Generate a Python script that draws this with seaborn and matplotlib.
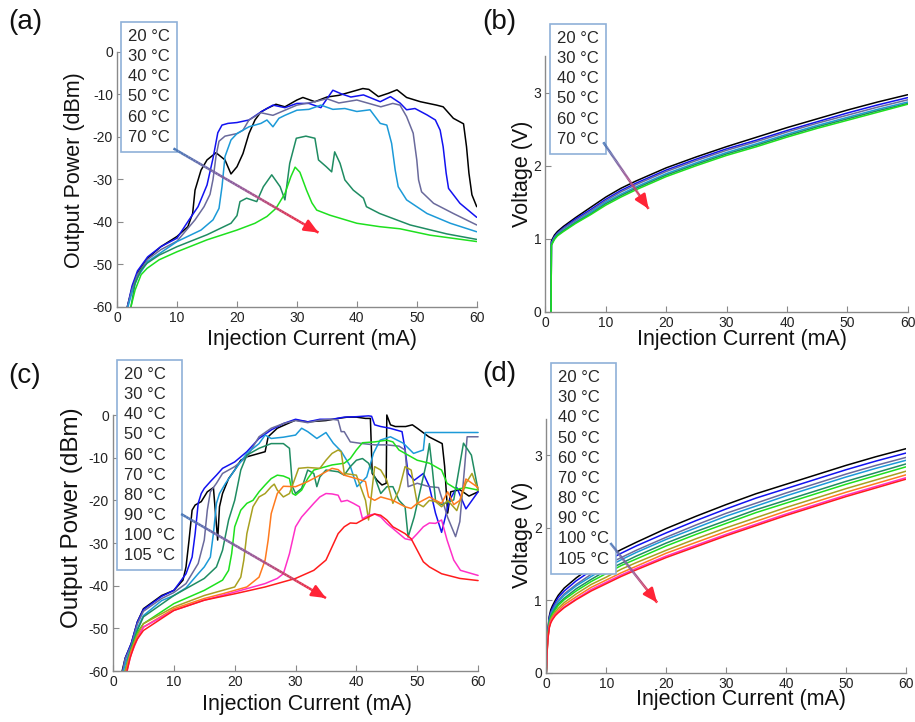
import numpy as np
import pandas as pd
import matplotlib
matplotlib.use("Agg")
import matplotlib.pyplot as plt
import seaborn as sns
from matplotlib.collections import LineCollection
from matplotlib.colors import LinearSegmentedColormap
from matplotlib.lines import Line2D

# ---------------- labels / colours ----------------
temps_ab = ["20 °C", "30 °C", "40 °C", "50 °C", "60 °C", "70 °C"]
temps_cd = temps_ab + ["80 °C", "90 °C", "100 °C", "105 °C"]
temp_colors = ["#000000", "#1212f0", "#6a6a9c", "#1c9ad8", "#1f8c62", "#1ee01e",
               "#a8a020", "#ff7a1e", "#ff30c8", "#ff1c1c"]

# ---------------- panel (a): output power, 20-70 °C ----------------
a20_x = [1.7, 2.5, 3.4, 5.1, 7.3, 10, 11.8, 12.6, 13, 14, 15, 16.5, 18, 19, 20, 21, 22, 23, 24, 25,
         26.5, 28, 30, 31, 33, 35, 37, 39, 41, 42, 43.6, 45.3, 46.7, 48.3, 50.6, 53.3, 54.4, 56.1,
         57.8, 58.3, 58.7, 59.2, 60]
a20_y = [-60, -55.5, -52, -48.5, -45.8, -43.4, -41.1, -38, -32.5, -27.8, -25.4, -23.7, -25.4, -28.7,
         -27, -23.9, -19.2, -16, -14.1, -13.3, -12.3, -12.9, -11.3, -10.7, -11.7, -10.6, -10.2, -9.4,
         -8.6, -8.8, -10.5, -9.7, -8.9, -10.7, -11.7, -12.5, -12.9, -15.6, -16.9, -22.3, -28.5, -33.6,
         -36.4]
a30_x = [1.7, 2.5, 3.4, 5.1, 7.3, 10, 12, 13.5, 15, 16, 16.8, 17.5, 18.5, 20, 22, 24, 26, 28, 30, 32,
         34, 36, 37.5, 39, 41.1, 43.9, 45.6, 47.2, 48.3, 49.7, 51.7, 53.1, 53.9, 54.4, 54.9, 55.3,
         57.2, 60]
a30_y = [-60, -55, -51.5, -48.2, -45.8, -43.8, -39.5, -36.4, -31.3, -25, -19, -17.2, -16.8, -16.6,
         -16, -14.1, -12.5, -13.1, -12.1, -12.1, -13.1, -9.0, -9.9, -10.6, -10.1, -11.7, -10.5, -12,
         -13.6, -13.3, -14.8, -16, -18.4, -22.3, -28.5, -32.1, -35.6, -38.9]
a40_x = [1.7, 2.5, 3.4, 5.1, 7.3, 10, 13, 14.5, 15.5, 16, 16.5, 17, 18, 20, 21, 22, 24, 26, 28, 30,
         33, 35, 37, 40, 42, 44, 46, 47.2, 48.3, 49.4, 50, 50.3, 50.8, 52.8, 56.1, 60]
a40_y = [-60, -55.8, -52.3, -48.8, -46.5, -44.5, -39.5, -36.4, -33.5, -30, -24.5, -21, -19.8, -19.2,
         -18.4, -16, -14.3, -14.9, -13.7, -12.5, -11.7, -11, -12, -11.3, -12.1, -12.9, -12.1, -12.5,
         -15.2, -19.1, -25.4, -30.1, -32.9, -35.6, -38, -40.7]
a50_x = [1.8, 2.6, 3.5, 5.1, 7.3, 10, 14, 16, 17, 17.5, 18, 19, 20, 22, 24, 25, 26, 27, 28, 30, 32,
         34, 36, 38, 40, 42.2, 43.9, 45, 45.8, 46.4, 46.9, 48.3, 51.7, 55.6, 60]
a50_y = [-60, -56, -52.8, -49.3, -47.2, -44.6, -41.9, -39.5, -36.8, -31.7, -24.6, -20.7, -19.2, -17.6,
         -16.8, -16, -17.6, -15.6, -14.9, -13.7, -13.5, -12.5, -13.5, -13.3, -14, -13.6, -16.8, -17.2,
         -21.5, -27.8, -31.7, -34.8, -38, -40.3, -42.3]
a60_x = [2.3, 3, 4, 5, 7, 10, 15, 19, 20, 20.5, 21.6, 23.3, 24.4, 25.8, 27.2, 28, 28.8, 29.9, 31.5,
         33, 33.6, 34.9, 35.8, 36.3, 37.2, 38, 39.4, 41.1, 41.6, 43.8, 48.9, 55, 60]
a60_y = [-60, -54.4, -51.3, -49.7, -47.8, -45.8, -43, -40.3, -38.5, -35.2, -34.4, -35.2, -31.7, -28.9,
         -31.7, -34.8, -26.2, -20.3, -19.8, -20.3, -25.4, -27, -28.2, -23.5, -26.2, -30.1, -32.5,
         -34.4, -36.4, -38, -40.7, -42.8, -44.1]
a70_x = [2.3, 3, 4, 5, 7, 10, 15, 20, 23, 25, 26.5, 28, 29, 29.7, 30.5, 31.6, 32.5, 33.3, 35.5, 40,
         43.8, 47.2, 52.2, 60]
a70_y = [-60, -56, -52.4, -50.9, -48.9, -47, -44.2, -41.9, -40.3, -38.7, -36.8, -33.3, -29.3, -27.1,
         -28.3, -32.5, -35.5, -37.2, -38.4, -40.3, -41.1, -41.6, -43.1, -44.6]

# ---------------- panel (b): voltage, 20-70 °C ----------------
b_current = [0.95, 1, 1.5, 2, 3, 5, 7.5, 10, 12.5, 15, 20, 25, 30, 35, 40, 45, 50, 55, 60]
b20 = [0, 0.97, 1.05, 1.10, 1.17, 1.29, 1.43, 1.57, 1.69, 1.79, 1.97, 2.12, 2.26, 2.39, 2.52, 2.64, 2.76, 2.87, 2.97]
b30 = [0, 0.95, 1.03, 1.08, 1.15, 1.27, 1.40, 1.54, 1.66, 1.76, 1.94, 2.09, 2.23, 2.35, 2.48, 2.60, 2.72, 2.83, 2.93]
b40 = [0, 0.94, 1.02, 1.07, 1.14, 1.25, 1.38, 1.52, 1.64, 1.74, 1.92, 2.07, 2.21, 2.33, 2.46, 2.58, 2.69, 2.80, 2.90]
b50 = [0, 0.93, 1.01, 1.06, 1.12, 1.23, 1.36, 1.50, 1.61, 1.71, 1.89, 2.04, 2.18, 2.30, 2.43, 2.55, 2.66, 2.77, 2.87]
b60 = [0, 0.92, 1.00, 1.05, 1.11, 1.22, 1.34, 1.48, 1.59, 1.69, 1.87, 2.02, 2.16, 2.28, 2.41, 2.53, 2.64, 2.75, 2.85]
b70 = [0, 0.91, 0.99, 1.04, 1.10, 1.21, 1.33, 1.46, 1.57, 1.67, 1.85, 2.00, 2.14, 2.26, 2.39, 2.51, 2.62, 2.73, 2.84]

# ---------------- panel (c): output power, 20-105 °C ----------------
c20_x = [1.5, 2, 3, 4, 5, 8, 10, 11.5, 12, 12.5, 13, 13.5, 14.5, 15.5, 16.5, 17.2, 17.5, 18, 19, 20,
         21, 22, 25, 25.5, 27, 30, 32, 35, 37, 38.5, 40, 41.5, 42.3, 42.6, 43.4, 44.2, 44.9, 45, 45.6,
         46.4, 48.1, 49.2, 50, 51.9, 54.1, 54.5, 55, 55.5, 57, 58.5, 60]
c20_y = [-60, -57, -53.6, -48.5, -45.4, -42.3, -41.1, -38.7, -35.6, -29.3, -22.3, -21.1, -20.3, -18,
         -17, -29.3, -21.5, -18.4, -14.9, -12.9, -10.6, -9.8, -8.6, -5.1, -3.1, -1.2, -1.6, -1.3,
         -0.8, -0.5, -0.5, -0.8, -0.8, -13.7, -15.3, -16.4, -16, 0, -2.3, -2.7, -2.7, -2.3, -3.1,
         -5.1, -6.7, -12, -23, -18, -17.5, -19, -18]
c30_x = [1.6, 2, 3, 4, 5, 8, 10, 12, 13, 13.5, 14, 14.5, 15, 16, 17, 18, 20, 22, 24, 26, 28, 30, 32,
         34, 36, 38, 40, 42, 42.5, 43, 44, 45.5, 47.5, 48, 48.5, 49.5, 51, 52, 53, 54, 54.6, 55.3,
         56.5, 58, 60]
c30_y = [-60, -57, -53.5, -48.5, -45.6, -42.5, -41.1, -37.2, -33.3, -27.8, -20.7, -18.4, -17.2, -15.6,
         -14.1, -12.5, -11, -8.6, -5.5, -3.5, -2, -1, -1.6, -1, -1, -0.5, -0.4, -0.2, -0.3, -2.3,
         -2.7, -3.1, -3.9, -8, -13.7, -15.3, -13.7, -16.8, -23, -27.5, -24, -20, -17, -22, -18]
c40_x = [1.6, 2, 3, 4, 5, 8, 10, 12, 14, 15, 15.5, 16, 17, 18, 20, 22, 24, 26, 28, 30, 32, 34, 36,
         37, 37.5, 38, 39, 41, 43, 45, 47, 48, 48.5, 50, 52, 53.5, 55, 56.3, 57, 57.8, 58.2, 60]
c40_y = [-60, -57.3, -54, -49, -46, -43, -41.6, -39.5, -34.8, -29.3, -22.3, -18, -16, -13.7, -12.1,
         -9.8, -5.1, -3.1, -2, -1.3, -1.8, -1.2, -1, -1.2, -3.9, -3.9, -6.3, -6.7, -7, -7, -7.3,
         -8.2, -16.8, -16, -16.8, -17, -24, -28.5, -25, -12, -5.1, -5.1]
c50_x = [1.7, 2.2, 3, 4, 5, 8, 10, 12, 14, 15, 16, 16.5, 17, 17.5, 18.5, 20, 22, 24, 25, 26, 28, 30,
         31, 32, 33.5, 35, 36.2, 37.5, 39, 40.1, 41.7, 42.8, 43.9, 45.6, 47.7, 49.4, 51, 51.3, 53, 60]
c50_y = [-60, -57.5, -54.5, -50, -47, -43.5, -42.3, -40.5, -37.2, -35.6, -33.3, -27.8, -20.7, -18.4,
         -16, -12.9, -9, -6.7, -4.7, -5.5, -5.2, -4.7, -3.1, -3.9, -5.5, -4.1, -6.6, -8.5, -12,
         -16.8, -14.5, -9, -5.9, -5.1, -6.6, -9, -8.2, -4.1, -4.1, -4.1]
c60_x = [2, 2.5, 3, 4, 5, 10, 15, 17, 18, 19, 20, 21, 22, 24, 26, 28, 29, 29.5, 30, 31, 32, 33, 33.5,
         34, 35, 37, 38, 39, 40, 41, 42, 43, 44, 45, 46, 47, 48, 48.5, 49.5, 50.5, 51.5, 52, 52.5,
         53, 54, 56, 57.6, 58.9, 60]
c60_y = [-60, -57, -54.5, -50.5, -47.3, -42.3, -38.3, -35.6, -31.7, -24.6, -20, -12.9, -9.4, -7.8,
         -6.7, -6.7, -7.8, -16.8, -18.4, -17.2, -12.9, -13.7, -16.8, -14.5, -12.9, -13.3, -14.1,
         -12.1, -10.6, -10.2, -11.3, -14.5, -18.4, -16.8, -16.8, -20, -21.5, -28.6, -23.9, -17.6,
         -11.3, -6.7, -12.9, -20, -21, -19.9, -6.6, -9.4, -17.6]
c70_x = [2, 2.5, 3, 4, 5, 10, 15, 18, 19, 19.5, 20, 21, 22, 23, 24, 25, 26, 27, 28, 29, 29.5, 30, 31,
         32, 33, 34, 36, 38, 39, 40, 41, 43, 45, 46, 47, 48, 49, 50, 52, 54, 54.9, 56.5, 58, 60]
c70_y = [-60, -57.5, -55, -51, -48.9, -44.2, -41.1, -38.7, -36.4, -32.5, -26.2, -22.3, -20.7, -20,
         -18, -16.4, -14.9, -14.1, -14.3, -14.9, -18.4, -18.8, -17.6, -14.9, -12.9, -12.5, -11.7,
         -11.3, -10.2, -8.2, -6.5, -6.3, -5.9, -6.3, -8.2, -9, -9.8, -10.6, -11.3, -12.9, -16,
         -17.4, -17, -17.6]
c80_x = [2, 2.5, 3, 4, 5, 10, 15, 20, 21, 21.5, 22, 23, 24, 25, 26, 26.5, 27, 28, 29, 30, 30.5, 32,
         34, 35, 36, 37, 37.5, 38, 40, 41.5, 42, 42.5, 43, 44, 45, 46, 47, 48, 49, 50, 51, 52, 53,
         54, 55, 56.5, 58, 59, 60]
c80_y = [-60, -57.5, -55, -51.5, -48.9, -45, -42.3, -40.3, -38, -34, -27.8, -21.5, -19.2, -18.4,
         -16.8, -16.2, -17.6, -19.2, -18.4, -14.5, -12.5, -12.3, -12.5, -10.6, -9, -8.2, -8.6,
         -13.7, -14.1, -20, -24.6, -18.4, -12.1, -12.9, -15.3, -20.7, -17.6, -12.1, -12.9, -20.7,
         -21.5, -20, -20.3, -21.5, -20, -22.4, -16, -13.7, -17.6]
c90_x = [2.2, 2.7, 3, 4, 5, 10, 15, 18, 22, 24, 25, 25.5, 26, 27, 28, 30, 32, 34, 36, 37, 38, 40,
         41.5, 42, 43, 44, 46, 48, 49, 50, 52, 53, 54, 55, 56, 57, 58, 60]
c90_y = [-60, -57, -55.5, -52, -49.7, -45.4, -43, -41.9, -40.3, -38, -34, -29.3, -23.1, -18.4, -16.7,
         -16.8, -15.6, -14.1, -12.5, -12.8, -14.1, -14.9, -15.6, -19.2, -20, -19.2, -20, -21.5,
         -21.9, -20.7, -19.2, -20, -20.7, -18, -21, -20, -15, -17]
c100_x = [2.3, 2.8, 3, 4, 5, 10, 15, 20, 25, 27, 28, 29, 30, 31, 32, 33, 34, 35, 36, 37, 37.5, 38.5,
          39.5, 40.5, 41, 42, 43, 44, 45, 46, 47, 48, 49, 50, 51, 52, 53, 54, 54.9, 56, 57.1, 60]
c100_y = [-60, -57, -56, -52.5, -49.7, -45.8, -43.4, -41.5, -39.5, -38.3, -37.2, -32.5, -26.2, -23.9,
          -22.3, -20.7, -19.2, -18.4, -18.5, -18.8, -20.3, -20, -20.7, -21.5, -24.3, -23.5, -23.2,
          -23.9, -25.4, -26.6, -27.8, -29, -29.3, -27.8, -26.2, -25.3, -25.4, -24.6, -29.3, -34,
          -36.4, -37.6]
c105_x = [2.3, 2.8, 3.5, 4, 5, 10, 15, 20, 25, 30, 33, 35, 36, 37, 38, 39, 40, 41, 42, 43, 44, 45,
          46, 47, 48, 49, 50, 51, 52, 54, 57, 60]
c105_y = [-60, -57, -54, -52.5, -50.5, -45.8, -43.4, -41.9, -40.3, -38.3, -36.4, -34, -30.9, -27.8,
          -26.2, -25.3, -25.4, -24.6, -23.9, -23.2, -23.5, -24.6, -26.2, -27, -27.8, -29, -31.7,
          -34.4, -35.6, -37.2, -38.3, -38.8]

# ---------------- panel (d): voltage, 20-105 °C ----------------
d_current = [0, 0.1, 0.25, 0.5, 0.75, 1, 1.5, 2, 3, 5, 7.5, 10, 12.5, 15, 20, 25, 30, 35, 40, 45, 50, 55, 60]
d20 = [0, .30, .58, .78, .87, .92, 1.00, 1.07, 1.17, 1.31, 1.46, 1.59, 1.70, 1.80, 1.99, 2.16, 2.32, 2.47, 2.60, 2.73, 2.86, 2.98, 3.09]
d30 = [0, .29, .56, .76, .84, .89, .97, 1.04, 1.13, 1.27, 1.41, 1.54, 1.65, 1.75, 1.93, 2.10, 2.26, 2.41, 2.54, 2.67, 2.80, 2.92, 3.03]
d40 = [0, .28, .54, .73, .82, .86, .94, 1.00, 1.09, 1.22, 1.36, 1.49, 1.59, 1.69, 1.87, 2.04, 2.20, 2.34, 2.48, 2.61, 2.74, 2.86, 2.97]
d50 = [0, .27, .53, .72, .80, .85, .92, .98, 1.07, 1.20, 1.33, 1.45, 1.56, 1.66, 1.84, 2.00, 2.16, 2.30, 2.44, 2.57, 2.70, 2.82, 2.93]
d60 = [0, .26, .51, .70, .78, .82, .89, .95, 1.03, 1.16, 1.29, 1.41, 1.51, 1.61, 1.79, 1.95, 2.10, 2.25, 2.38, 2.51, 2.64, 2.76, 2.88]
d70 = [0, .25, .50, .68, .76, .81, .87, .93, 1.01, 1.13, 1.26, 1.37, 1.48, 1.57, 1.75, 1.91, 2.06, 2.21, 2.34, 2.47, 2.60, 2.72, 2.84]
d80 = [0, .24, .48, .66, .74, .78, .84, .89, .97, 1.09, 1.22, 1.32, 1.43, 1.52, 1.69, 1.85, 2.00, 2.14, 2.28, 2.41, 2.54, 2.66, 2.78]
d90 = [0, .23, .47, .64, .72, .76, .82, .86, .94, 1.05, 1.18, 1.28, 1.38, 1.47, 1.65, 1.80, 1.95, 2.09, 2.23, 2.36, 2.49, 2.61, 2.73]
d100 = [0, .22, .46, .63, .70, .74, .80, .84, .91, 1.02, 1.15, 1.25, 1.35, 1.44, 1.61, 1.76, 1.91, 2.05, 2.19, 2.32, 2.45, 2.57, 2.69]
d105 = [0, .22, .45, .62, .69, .73, .79, .83, .90, 1.01, 1.13, 1.23, 1.33, 1.42, 1.59, 1.74, 1.89, 2.03, 2.17, 2.30, 2.43, 2.55, 2.67]

# arrow annotations (start, end) in data units
arrow_a = [(9.4, -22.7), (33.6, -42.5)]
arrow_b = [(9.6, 2.32), (17.1, 1.41)]
arrow_c = [(11.2, -23.2), (35.0, -42.9)]
arrow_d = [(10.7, 1.79), (18.5, 0.97)]

# ---------------- build long-form tables ----------------
def long_frame(labels, xs, ys):
    parts = []
    for lab, x, y in zip(labels, xs, ys):
        parts.append(pd.DataFrame({"current": x, "value": y, "temp": lab}))
    return pd.concat(parts, ignore_index=True)

df_a = long_frame(temps_ab, [a20_x, a30_x, a40_x, a50_x, a60_x, a70_x],
                  [a20_y, a30_y, a40_y, a50_y, a60_y, a70_y])
df_b = long_frame(temps_ab, [b_current] * 6, [b20, b30, b40, b50, b60, b70])
df_c = long_frame(temps_cd,
                  [c20_x, c30_x, c40_x, c50_x, c60_x, c70_x, c80_x, c90_x, c100_x, c105_x],
                  [c20_y, c30_y, c40_y, c50_y, c60_y, c70_y, c80_y, c90_y, c100_y, c105_y])
df_d = long_frame(temps_cd, [d_current] * 10,
                  [d20, d30, d40, d50, d60, d70, d80, d90, d100, d105])

palette = dict(zip(temps_cd, temp_colors))

# ---------------- style ----------------
sns.set_theme(style="white")
plt.rcParams["font.family"] = ["Liberation Sans", "DejaVu Sans"]
plt.rcParams["axes.unicode_minus"] = False

fig = plt.figure(figsize=(9.15, 7.22), dpi=100)
ax_a = fig.add_axes([0.128, 0.5748, 0.393, 0.3532])
ax_b = fig.add_axes([0.596, 0.5679, 0.396, 0.3546])
ax_c = fig.add_axes([0.1235, 0.0706, 0.399, 0.3546])
ax_d = fig.add_axes([0.597, 0.0679, 0.393, 0.3518])

arrow_cmap = LinearSegmentedColormap.from_list("arr", ["#4a78b8", "#9a5896", "#ff2436"])


def gradient_arrow(ax, seg):
    (x0, y0), (x1, y1) = seg
    t = np.linspace(0, 1, 60)
    px = x0 + (x1 - x0) * t
    py = y0 + (y1 - y0) * t
    pts = np.column_stack([px, py]).reshape(-1, 1, 2)
    segs = np.concatenate([pts[:-1], pts[1:]], axis=1)
    lc = LineCollection(segs, cmap=arrow_cmap, linewidths=1.8, zorder=6)
    lc.set_array(t[:-1])
    ax.add_collection(lc)
    ax.annotate("", xy=(x1, y1), xytext=(x0 + (x1 - x0) * 0.93, y0 + (y1 - y0) * 0.93),
                arrowprops=dict(arrowstyle="-|>,head_length=0.7,head_width=0.3",
                                color="#ff2436", lw=1.8, shrinkA=0, shrinkB=0),
                zorder=7)


def style_axes(ax, ylim, yticks, ylabel, ylab_pos, ylab_size, xlab_pos, leg_labels, leg_top):
    ax.set_xlim(0, 60)
    ax.set_ylim(*ylim)
    ax.set_xticks(range(0, 61, 10))
    ax.set_yticks(yticks)
    for s in ["top", "right"]:
        ax.spines[s].set_visible(False)
    for s in ["left", "bottom"]:
        ax.spines[s].set_color("#8a8a8a")
        ax.spines[s].set_linewidth(1.0)
    ax.tick_params(direction="in", length=4, width=0.8, color="#8a8a8a",
                   labelsize=10, labelcolor="#222222", pad=3,
                   left=True, bottom=True)
    ax.set_xlabel("Injection Current (mA)", fontsize=15.5, color="#111111")
    ax.xaxis.set_label_coords(*xlab_pos)
    ax.set_ylabel(ylabel, fontsize=ylab_size, color="#111111")
    ax.yaxis.set_label_coords(*ylab_pos)
    handles = [Line2D([], [], linestyle="none") for _ in leg_labels]
    leg = ax.legend(handles, leg_labels, loc="upper left", bbox_to_anchor=(0.012, leg_top),
                    handlelength=0, handletextpad=0, fontsize=12, labelspacing=0.31,
                    borderpad=0.42, borderaxespad=0, frameon=True, fancybox=False,
                    edgecolor="#8fb0d8", facecolor="white", framealpha=1)
    leg.get_frame().set_linewidth(1.2)
    leg.set_zorder(5)


# (a)
sns.lineplot(data=df_a, x="current", y="value", hue="temp", hue_order=temps_ab, palette=palette,
             estimator=None, sort=False, legend=False, linewidth=1.1, ax=ax_a)
style_axes(ax_a, (-60, 0), range(-60, 1, 10), "Output Power (dBm)", (-0.089, 0.537), 15.5,
           (0.542, -0.085), temps_ab, 1.118)
gradient_arrow(ax_a, arrow_a)

# (b)
sns.lineplot(data=df_b, x="current", y="value", hue="temp", hue_order=temps_ab, palette=palette,
             estimator=None, sort=False, legend=False, linewidth=1.1, ax=ax_b)
style_axes(ax_b, (0, 3.5), [0, 1, 2, 3], "Voltage (V)", (-0.033, 0.54), 15.5,
           (0.544, -0.065), temps_ab, 1.125)
gradient_arrow(ax_b, arrow_b)

# (c)
sns.lineplot(data=df_c, x="current", y="value", hue="temp", hue_order=temps_cd, palette=palette,
             estimator=None, sort=False, legend=False, linewidth=1.1, ax=ax_c)
style_axes(ax_c, (-60, 0), range(-60, 1, 10), "Output Power (dBm)", (-0.082, 0.598), 17.5,
           (0.531, -0.09), temps_cd, 1.215)
for ln in ax_c.lines:
    ln.set_clip_on(False)
gradient_arrow(ax_c, arrow_c)

# (d)
sns.lineplot(data=df_d, x="current", y="value", hue="temp", hue_order=temps_cd, palette=palette,
             estimator=None, sort=False, legend=False, linewidth=1.1, ax=ax_d)
style_axes(ax_d, (0, 3.5), [0, 1, 2, 3], "Voltage (V)", (-0.036, 0.543), 15.5,
           (0.541, -0.065), temps_cd, 1.22)
gradient_arrow(ax_d, arrow_d)

# panel letters
for txt, x, y in [("(a)", 0.009, 0.988), ("(b)", 0.527, 0.988),
                  ("(c)", 0.009, 0.497), ("(d)", 0.527, 0.500)]:
    fig.text(x, y, txt, fontsize=20, va="top", ha="left", color="#111111")

fig.savefig("out.png", dpi=100)
